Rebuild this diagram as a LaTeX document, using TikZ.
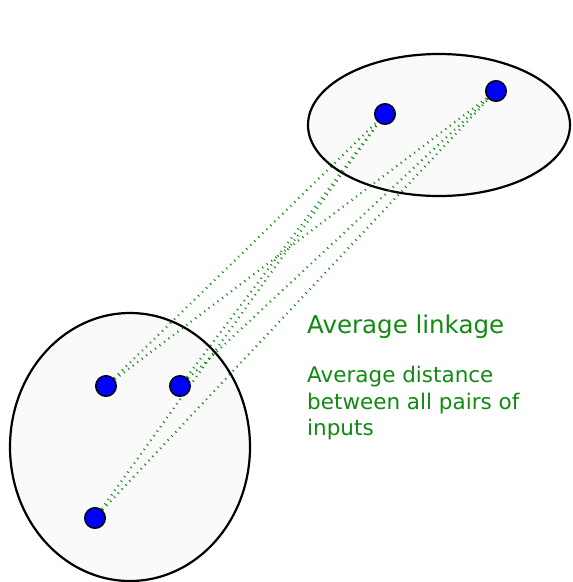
\documentclass[tikz,border=0pt]{standalone}
\usepackage{fontspec}
\setmainfont{DejaVu Sans}
\usepackage{xcolor}
\usetikzlibrary{positioning,backgrounds}

\begin{document}
\begin{tikzpicture}[
  x=1pt, y=-1pt,
  line cap=round,
  line join=round,
  cluster/.style={draw=black, fill=black!2, line width=2.2pt},
  input/.style={circle, draw=black, fill=blue, line width=1.5pt,
    minimum size=20.5pt, inner sep=0pt},
  pairlink/.style={draw=linkgreen, line width=2.3pt,
    dash pattern=on 1pt off 4.6pt},
  caption/.style={text=linkgreen, inner sep=0pt}
]
\definecolor{linkgreen}{HTML}{108A10}
\useasboundingbox (0,0) rectangle (573,582);

% Inputs
\node[input] (a1) at (106,386) {};
\node[input] (a2) at (180,386) {};
\node[input] (a3) at (95,518) {};
\node[input] (b1) at (385,114) {};
\node[input] (b2) at (496,91) {};

\begin{pgfonlayer}{background}
  % Clusters
  \path[cluster] (130,447) ellipse (120 and 134);
  \path[cluster] (439,125) ellipse (131 and 71);
  % All pairs between the two clusters
  \foreach \p in {a1,a2,a3}{
    \foreach \q in {b1,b2}{
      \draw[pairlink] (\p.center) -- (\q.center);
    }
  }
\end{pgfonlayer}

% Labels
\node[caption, anchor=base west, font=\fontsize{24.5}{30}\selectfont]
  (title) at (307,333) {Average linkage};
\node[caption, anchor=north west, align=left,
  font=\fontsize{21.5}{26.7}\selectfont]
  (note) at (307,366) {Average distance\\between all pairs of\\inputs};
\end{tikzpicture}
\end{document}
